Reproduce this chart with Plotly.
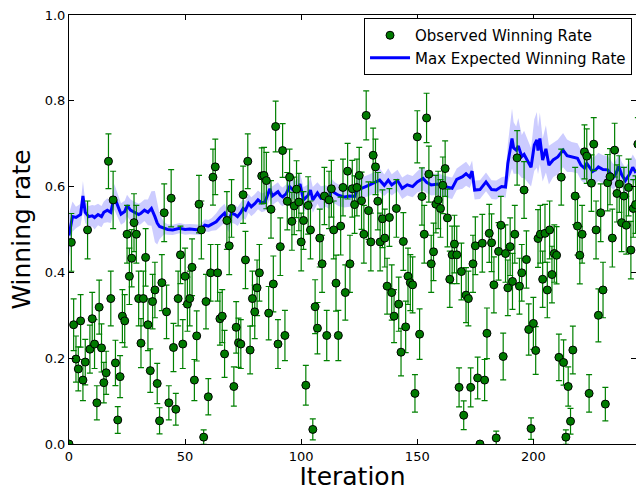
import numpy as np
import plotly.graph_objects as go

# Observed winning rate per iteration (index = iteration)
observed = [
    0.000, 0.470, 0.278, 0.198, 0.175, 0.287, 0.149, 0.191, 0.499, 0.221,
    0.292, 0.233, 0.096, 0.319, 0.224, 0.143, 0.166, 0.659, 0.339, 0.569,
    0.189, 0.056, 0.157, 0.298, 0.287, 0.489, 0.391, 0.433, 0.516, 0.489,
    0.339, 0.235, 0.339, 0.435, 0.278, 0.171, 0.332, 0.359, 0.141, 0.054,
    0.376, 0.539, 0.308, 0.096, 0.573, 0.225, 0.081, 0.339, 0.441, 0.233,
    0.391, 0.326, 0.339, 0.412, 0.149, 0.252, 0.559, 0.499, 0.016, 0.332,
    0.110, 0.399, 0.622, 0.646, 0.399, 0.292, 0.298, 0.210, 0.521, 0.462,
    0.549, 0.134, 0.272, 0.236, 0.233, 0.581, 0.429, 0.659, 0.219, 0.339,
    0.308, 0.364, 0.399, 0.625, 0.626, 0.614, 0.305, 0.547, 0.373, 0.740,
    0.233, 0.460, 0.684, 0.253, 0.566, 0.622, 0.519, 0.555, 0.594, 0.564,
    0.471, 0.521, 0.137, 0.556, 0.499, 0.034, 0.320, 0.270, 0.480, 0.420,
    0.578, 0.253, 0.569, 0.595, 0.499, 0.375, 0.253, 0.508, 0.598, 0.353,
    0.636, 0.420, 0.595, 0.558, 0.598, 0.626, 0.567, 0.489, 0.766, 0.544,
    0.471, 0.673, 0.646, 0.566, 0.471, 0.525, 0.480, 0.368, 0.528, 0.353,
    0.298, 0.549, 0.326, 0.214, 0.472, 0.273, 0.391, 0.376, 0.371, 0.118,
    0.716, 0.256, 0.577, 0.489, 0.760, 0.629, 0.420, 0.448, 0.559, 0.569,
    0.549, 0.603, 0.642, 0.527, 0.384, 0.441, 0.466, 0.441, 0.132, 0.402,
    0.067, 0.347, 0.339, 0.132, 0.420, 0.462, 0.154, 0.000, 0.468, 0.149,
    0.258, 0.491, 0.469, 0.371, 0.014, 0.449, 0.510, 0.204, 0.444, 0.364,
    0.460, 0.379, 0.489, 0.667, 0.368, 0.399, 0.592, 0.430, 0.267, 0.036,
    0.281, 0.218, 0.479, 0.489, 0.384, 0.491, 0.359, 0.499, 0.395, 0.444,
    0.440, 0.202, 0.622, 0.190, 0.016, 0.134, 0.053, 0.219, 0.578, 0.508,
    0.440, 0.489, 0.681, 0.671, 0.118, 0.608, 0.699, 0.499, 0.300, 0.539,
    0.359, 0.093, 0.609, 0.623, 0.480, 0.685, 0.584, 0.606, 0.516, 0.578,
    0.510, 0.598, 0.452, 0.549, 0.558, 0.699,
]
iterations = list(range(len(observed)))
N_GAMES = 55  # games per evaluation -> binomial standard error bars

# Max expected winning rate (sampled vertices of the curve)
mer_x = [
    0, 1.5, 3, 5, 6, 7, 8.5, 10, 11, 12.5, 14, 15, 16.5, 18, 19.5, 21, 22.4, 24,
    25, 26.5, 28, 30, 31, 32.5, 34, 35.5, 37, 38, 39, 41, 42.5, 44.7, 46, 47.6,
    50, 52, 54, 56.3, 57.5, 58.5, 60, 61.5, 63.4, 65, 67, 68.6, 70, 71.5, 72.6,
    74, 75, 76, 77.3, 78.5, 80, 81.4, 83, 84.5, 85.5, 86.5, 87.5, 89, 90, 91, 92,
    93.5, 95, 96.5, 98, 99.5, 101, 103, 104, 105, 107, 108.5, 110.6, 112, 113,
    114.5, 116, 118.5, 121, 123, 124, 126, 128, 129.5, 131, 133.8, 135.8, 137.5,
    139, 141.5, 143.5, 145.7, 148, 150, 152.5, 154, 156, 159, 162, 165, 167,
    169.5, 171, 172.6, 173.6, 174.7, 177, 179.6, 182, 184, 186.3, 188, 189,
    190.8, 191.5, 192.6, 193.5, 195, 196, 197.5, 199, 200.4, 201.5, 202, 202.8,
    204, 205.4, 206.7, 208.5, 210.5, 212.8, 214.5, 216.5, 219, 220.5, 222, 223,
    225.5, 227, 228, 230, 232, 234.5, 235.5, 236.8, 238, 239.6, 241.5, 242.8,
    244.2,
]
mer_y = [
    0.486, 0.530, 0.528, 0.535, 0.578, 0.540, 0.530, 0.532, 0.528, 0.535, 0.530,
    0.540, 0.545, 0.540, 0.576, 0.555, 0.536, 0.542, 0.556, 0.545, 0.540, 0.535,
    0.538, 0.545, 0.540, 0.549, 0.530, 0.515, 0.507, 0.503, 0.500, 0.499, 0.501,
    0.503, 0.500, 0.501, 0.500, 0.499, 0.505, 0.510, 0.508, 0.512, 0.518, 0.528,
    0.538, 0.516, 0.538, 0.535, 0.530, 0.540, 0.549, 0.545, 0.561, 0.553, 0.560,
    0.569, 0.562, 0.565, 0.580, 0.595, 0.578, 0.585, 0.588, 0.580, 0.576, 0.583,
    0.600, 0.592, 0.592, 0.606, 0.569, 0.580, 0.592, 0.569, 0.585, 0.573, 0.578,
    0.573, 0.591, 0.585, 0.580, 0.576, 0.578, 0.577, 0.591, 0.596, 0.600, 0.604,
    0.608, 0.615, 0.603, 0.615, 0.604, 0.614, 0.596, 0.604, 0.600, 0.611, 0.619,
    0.610, 0.604, 0.606, 0.600, 0.596, 0.617, 0.623, 0.630, 0.622, 0.636, 0.592,
    0.593, 0.611, 0.593, 0.592, 0.600, 0.599, 0.654, 0.712, 0.690, 0.685, 0.695,
    0.670, 0.675, 0.660, 0.645, 0.697, 0.709, 0.684, 0.712, 0.662, 0.688, 0.650,
    0.662, 0.669, 0.685, 0.672, 0.669, 0.666, 0.650, 0.643, 0.654, 0.635, 0.640,
    0.646, 0.640, 0.639, 0.622, 0.630, 0.647, 0.628, 0.614, 0.630, 0.645, 0.632,
]
mer_band = [
    0.050, 0.035, 0.025, 0.025, 0.035, 0.025, 0.025, 0.025, 0.028, 0.025, 0.025,
    0.025, 0.028, 0.025, 0.030, 0.028, 0.025, 0.025, 0.025, 0.025, 0.025, 0.025,
    0.025, 0.025, 0.030, 0.040, 0.060, 0.050, 0.030, 0.014, 0.012, 0.012, 0.012,
    0.012, 0.012, 0.012, 0.012, 0.012, 0.012, 0.014, 0.014, 0.015, 0.020, 0.022,
    0.022, 0.022, 0.022, 0.022, 0.022, 0.022, 0.022, 0.022, 0.022, 0.022, 0.022,
    0.022, 0.022, 0.022, 0.022, 0.025, 0.022, 0.022, 0.022, 0.022, 0.022, 0.022,
    0.025, 0.022, 0.022, 0.025, 0.030, 0.025, 0.030, 0.030, 0.025, 0.028, 0.025,
    0.025, 0.028, 0.025, 0.025, 0.025, 0.025, 0.025, 0.025, 0.025, 0.025, 0.025,
    0.025, 0.028, 0.025, 0.028, 0.025, 0.025, 0.025, 0.025, 0.025, 0.025, 0.028,
    0.025, 0.025, 0.025, 0.025, 0.025, 0.025, 0.028, 0.028, 0.025, 0.025, 0.022,
    0.022, 0.022, 0.022, 0.022, 0.022, 0.025, 0.045, 0.070, 0.060, 0.055, 0.065,
    0.050, 0.055, 0.050, 0.045, 0.060, 0.065, 0.055, 0.060, 0.050, 0.055, 0.045,
    0.040, 0.040, 0.040, 0.038, 0.035, 0.035, 0.035, 0.035, 0.035, 0.033, 0.033,
    0.033, 0.033, 0.033, 0.030, 0.030, 0.030, 0.030, 0.030, 0.030, 0.030, 0.030,
]

x_ticks = [0, 50, 100, 150, 200]
y_ticks = [0.0, 0.2, 0.4, 0.6, 0.8, 1.0]

obs = np.array(observed)
err = np.sqrt(obs * (1 - obs) / N_GAMES)
my = np.array(mer_y)
mb = np.array(mer_band)

fig = go.Figure()
fig.add_trace(go.Scatter(
    x=mer_x + mer_x[::-1],
    y=list(my + mb) + list((my - mb)[::-1]),
    fill="toself", fillcolor="rgba(0,0,255,0.2)",
    line=dict(width=0), mode="lines", showlegend=False, hoverinfo="skip",
))
fig.add_trace(go.Scatter(
    x=mer_x, y=mer_y, mode="lines", name="Max Expected Winning Rate",
    line=dict(color="#0000ff", width=3), legendrank=2,
))
fig.add_trace(go.Scatter(
    x=iterations, y=observed, mode="markers", name="Observed Winning Rate",
    marker=dict(color="#007a00", size=8, line=dict(color="black", width=1)),
    error_y=dict(type="data", array=err, color="#008000", thickness=1.2, width=3),
    legendrank=1,
))

font_family = "DejaVu Sans, Bitstream Vera Sans, sans-serif"
fig.update_layout(
    width=636, height=491,
    margin=dict(l=69, r=0, t=15, b=47),
    plot_bgcolor="white", paper_bgcolor="white",
    font=dict(family=font_family, color="black", size=13),
    legend=dict(
        x=0.993, y=0.993, xanchor="right", yanchor="top",
        bordercolor="black", borderwidth=1, bgcolor="white",
        font=dict(size=15, family=font_family), traceorder="normal",
        itemwidth=40, tracegroupgap=4,
    ),
    showlegend=True,
)
fig.update_xaxes(
    range=[0, 244.2], tickvals=x_ticks, ticktext=[str(v) for v in x_ticks],
    ticks="inside", ticklen=5, tickcolor="black", showline=True, linecolor="black",
    linewidth=1, mirror="ticks", showgrid=False, zeroline=False, automargin=False,
    title=dict(text="Iteration", font=dict(size=25, family=font_family), standoff=14),
)
fig.update_yaxes(
    range=[0, 1.0], tickvals=y_ticks, ticktext=[f"{v:.1f}" for v in y_ticks],
    ticks="inside", ticklen=5, tickcolor="black", showline=True, linecolor="black",
    linewidth=1, mirror="ticks", showgrid=False, zeroline=False, automargin=False,
    title=dict(text="Winning rate", font=dict(size=25, family=font_family), standoff=6),
)

fig.write_html(
    "out.html",
    config={"displayModeBar": False},
    post_script="document.body.style.margin='0px';document.body.style.overflow='hidden';",
)
